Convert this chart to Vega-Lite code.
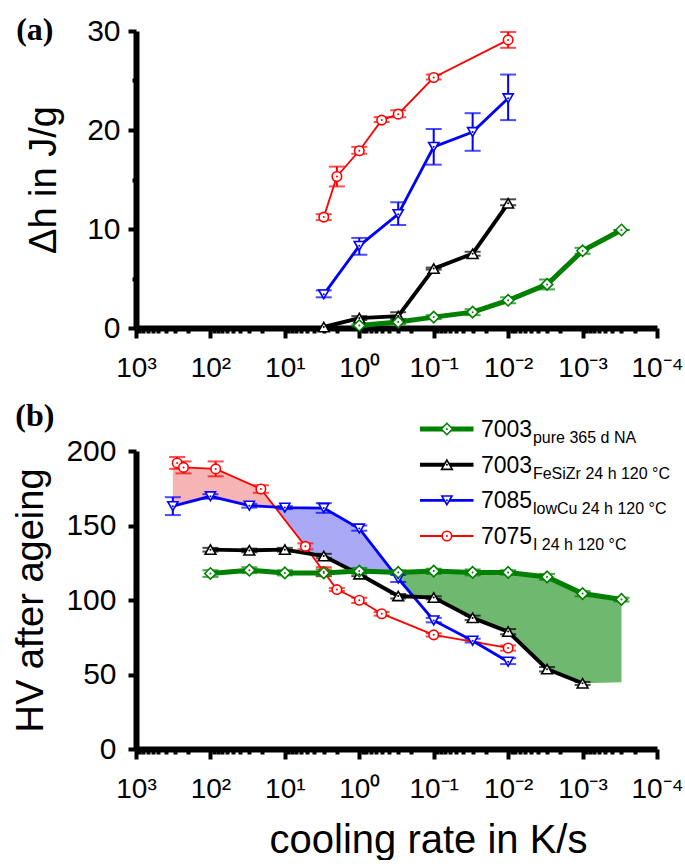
{
"$schema": "https://vega.github.io/schema/vega-lite/v6.json",
"padding": {"left": 12, "top": 14, "right": 0, "bottom": 0},
"spacing": 17,
"config": {
  "view": {"stroke": null},
  "font": "Liberation Sans",
  "axis": {"domainColor": "#000", "domainWidth": 6, "tickColor": "#000", "tickWidth": 4, "labelFont": "Liberation Sans", "labelFontSize": 30, "labelColor": "#000", "titleFont": "Liberation Sans", "titleFontSize": 38, "titleFontWeight": "normal", "titleColor": "#000", "grid": false},
  "axisX": {"labelFontSize": 28}
},
"datasets": {
  "pts": [
    {"p":"a","s":"7075","r":3,"v":11.2,"lo":10.9,"hi":11.5},
    {"p":"a","s":"7075","r":2,"v":15.3,"lo":14.3,"hi":16.3},
    {"p":"a","s":"7075","r":1,"v":17.9,"lo":17.6,"hi":18.3},
    {"p":"a","s":"7075","r":0.5,"v":21.0,"lo":20.8,"hi":21.3},
    {"p":"a","s":"7075","r":0.3,"v":21.6,"lo":21.3,"hi":22.0},
    {"p":"a","s":"7075","r":0.1,"v":25.3,"lo":25.1,"hi":25.6},
    {"p":"a","s":"7075","r":0.01,"v":29.1,"lo":28.3,"hi":29.9},
    {"p":"a","s":"7085","r":3,"v":3.4,"lo":3.1,"hi":3.8},
    {"p":"a","s":"7085","r":1,"v":8.3,"lo":7.4,"hi":9.1},
    {"p":"a","s":"7085","r":0.3,"v":11.5,"lo":10.4,"hi":12.7},
    {"p":"a","s":"7085","r":0.1,"v":18.3,"lo":16.5,"hi":20.1},
    {"p":"a","s":"7085","r":0.03,"v":19.8,"lo":17.9,"hi":21.7},
    {"p":"a","s":"7085","r":0.01,"v":23.2,"lo":21.0,"hi":25.6},
    {"p":"a","s":"7003FeSiZr","r":3,"v":0.1,"lo":0.1,"hi":0.1},
    {"p":"a","s":"7003FeSiZr","r":1,"v":1.0,"lo":0.8,"hi":1.2},
    {"p":"a","s":"7003FeSiZr","r":0.3,"v":1.2,"lo":0.9,"hi":1.6},
    {"p":"a","s":"7003FeSiZr","r":0.1,"v":6.0,"lo":5.9,"hi":6.1},
    {"p":"a","s":"7003FeSiZr","r":0.03,"v":7.5,"lo":7.3,"hi":7.7},
    {"p":"a","s":"7003FeSiZr","r":0.01,"v":12.6,"lo":12.4,"hi":13.0},
    {"p":"a","s":"7003pure","r":1,"v":0.25,"lo":0.15,"hi":0.35},
    {"p":"a","s":"7003pure","r":0.3,"v":0.6,"lo":0.4,"hi":0.8},
    {"p":"a","s":"7003pure","r":0.1,"v":1.1,"lo":0.9,"hi":1.3},
    {"p":"a","s":"7003pure","r":0.03,"v":1.6,"lo":1.3,"hi":1.9},
    {"p":"a","s":"7003pure","r":0.01,"v":2.8,"lo":2.5,"hi":3.1},
    {"p":"a","s":"7003pure","r":0.003,"v":4.4,"lo":3.9,"hi":4.9},
    {"p":"a","s":"7003pure","r":0.001,"v":7.8,"lo":7.5,"hi":8.1},
    {"p":"a","s":"7003pure","r":0.0003,"v":9.9,"lo":9.9,"hi":9.9},
    {"p":"b","s":"7075","r":280,"v":192,"lo":188,"hi":196},
    {"p":"b","s":"7075","r":230,"v":189,"lo":185,"hi":193},
    {"p":"b","s":"7075","r":85,"v":188,"lo":183,"hi":193},
    {"p":"b","s":"7075","r":21,"v":174.5,"lo":172,"hi":177},
    {"p":"b","s":"7075","r":5.3,"v":136,"lo":134,"hi":138},
    {"p":"b","s":"7075","r":3,"v":119,"lo":116,"hi":122},
    {"p":"b","s":"7075","r":2,"v":107,"lo":106,"hi":108},
    {"p":"b","s":"7075","r":1,"v":99.8,"lo":98,"hi":101.5},
    {"p":"b","s":"7075","r":0.5,"v":90.8,"lo":89.5,"hi":92},
    {"p":"b","s":"7075","r":0.1,"v":76.6,"lo":75.5,"hi":77.7},
    {"p":"b","s":"7075","r":0.01,"v":67.8,"lo":66,"hi":69.5},
    {"p":"b","s":"7085","r":320,"v":163,"lo":157,"hi":169},
    {"p":"b","s":"7085","r":100,"v":169.6,"lo":168,"hi":171},
    {"p":"b","s":"7085","r":30,"v":163.3,"lo":162,"hi":164.5},
    {"p":"b","s":"7085","r":10,"v":162,"lo":161,"hi":163},
    {"p":"b","s":"7085","r":3,"v":161.7,"lo":158.5,"hi":165},
    {"p":"b","s":"7085","r":1,"v":148,"lo":146.5,"hi":150},
    {"p":"b","s":"7085","r":0.3,"v":114.4,"lo":112,"hi":117},
    {"p":"b","s":"7085","r":0.1,"v":86.3,"lo":85,"hi":88},
    {"p":"b","s":"7085","r":0.03,"v":72.7,"lo":71.5,"hi":74},
    {"p":"b","s":"7085","r":0.01,"v":58.6,"lo":57,"hi":61},
    {"p":"b","s":"7003FeSiZr","r":100,"v":133.8,"lo":132.5,"hi":135},
    {"p":"b","s":"7003FeSiZr","r":30,"v":133.3,"lo":132,"hi":134.5},
    {"p":"b","s":"7003FeSiZr","r":10,"v":133.8,"lo":132.5,"hi":135},
    {"p":"b","s":"7003FeSiZr","r":3,"v":129.5,"lo":128,"hi":131},
    {"p":"b","s":"7003FeSiZr","r":1,"v":117.3,"lo":116,"hi":118.5},
    {"p":"b","s":"7003FeSiZr","r":0.3,"v":102.7,"lo":101,"hi":104},
    {"p":"b","s":"7003FeSiZr","r":0.1,"v":101.6,"lo":100.5,"hi":102.5},
    {"p":"b","s":"7003FeSiZr","r":0.03,"v":88,"lo":86.5,"hi":89.5},
    {"p":"b","s":"7003FeSiZr","r":0.01,"v":78.8,"lo":77,"hi":80.5},
    {"p":"b","s":"7003FeSiZr","r":0.003,"v":53.6,"lo":52,"hi":55},
    {"p":"b","s":"7003FeSiZr","r":0.001,"v":44.1,"lo":43,"hi":45},
    {"p":"b","s":"7003pure","r":100,"v":117.8,"lo":115.5,"hi":120},
    {"p":"b","s":"7003pure","r":30,"v":120,"lo":118,"hi":122},
    {"p":"b","s":"7003pure","r":10,"v":118.2,"lo":116.5,"hi":120},
    {"p":"b","s":"7003pure","r":3,"v":118.2,"lo":116,"hi":120.5},
    {"p":"b","s":"7003pure","r":1,"v":119.4,"lo":117.5,"hi":121.5},
    {"p":"b","s":"7003pure","r":0.3,"v":118.5,"lo":117,"hi":120},
    {"p":"b","s":"7003pure","r":0.1,"v":119.4,"lo":117.5,"hi":121},
    {"p":"b","s":"7003pure","r":0.03,"v":118.5,"lo":116.5,"hi":120.5},
    {"p":"b","s":"7003pure","r":0.01,"v":118.5,"lo":117,"hi":120},
    {"p":"b","s":"7003pure","r":0.003,"v":115.5,"lo":113.5,"hi":117.5},
    {"p":"b","s":"7003pure","r":0.001,"v":104.3,"lo":102.5,"hi":106},
    {"p":"b","s":"7003pure","r":0.0003,"v":100.4,"lo":99,"hi":101.5}
  ],
  "areas": [
    {"area":"red","r":320,"top":192,"bot":163},
    {"area":"red","r":280,"top":192,"bot":163.9},
    {"area":"red","r":230,"top":189,"bot":165.2},
    {"area":"red","r":100,"top":188.4,"bot":169.6},
    {"area":"red","r":85,"top":188,"bot":168.7},
    {"area":"red","r":30,"top":178,"bot":163.3},
    {"area":"red","r":21,"top":174.5,"bot":162.8},
    {"area":"red","r":13,"top":162.3,"bot":162.3},
    {"area":"blue","r":13,"top":162.3,"bot":162.3},
    {"area":"blue","r":10,"top":162,"bot":154},
    {"area":"blue","r":5.3,"top":161.8,"bot":136},
    {"area":"blue","r":4.5,"top":161.7,"bot":130.8},
    {"area":"blue","r":3,"top":161.7,"bot":129.5},
    {"area":"blue","r":1.2,"top":150.2,"bot":119.2},
    {"area":"blue","r":1,"top":148,"bot":119.4},
    {"area":"blue","r":0.36,"top":118.5,"bot":118.5},
    {"area":"green","r":0.36,"top":118.5,"bot":118.5},
    {"area":"green","r":0.3,"top":118.5,"bot":114.4},
    {"area":"green","r":0.19,"top":118.9,"bot":102.2},
    {"area":"green","r":0.1,"top":119.4,"bot":101.6},
    {"area":"green","r":0.03,"top":118.5,"bot":88},
    {"area":"green","r":0.01,"top":118.5,"bot":78.8},
    {"area":"green","r":0.003,"top":115.5,"bot":53.6},
    {"area":"green","r":0.001,"top":104.3,"bot":44.1},
    {"area":"green","r":0.0003,"top":100.4,"bot":44.8}
  ],
  "leg": [
    {"s":"7003pure","main":"7003","sub":"pure 365 d NA"},
    {"s":"7003FeSiZr","main":"7003","sub":"FeSiZr 24 h 120 °C"},
    {"s":"7085","main":"7085","sub":"lowCu 24 h 120 °C"},
    {"s":"7075","main":"7075","sub":"I 24 h 120 °C"}
  ]
},
"vconcat": [
  {
    "width": 521, "height": 297,
    "layer": [
      {
        "data": {"name": "pts"},
        "transform": [{"filter": "datum.p == 'a'"}],
        "encoding": {
          "x": {"field": "r", "type": "quantitative", "title": null,
            "scale": {"type": "log", "domain": [0.0001, 1000], "reverse": true, "nice": false},
            "axis": {"values": [1000,900,800,700,600,500,400,300,200,100,90,80,70,60,50,40,30,20,10,9,8,7,6,5,4,3,2,1,0.9,0.8,0.7,0.6,0.5,0.4,0.3,0.2,0.1,0.09,0.08,0.07,0.06,0.05,0.04,0.03,0.02,0.01,0.009,0.008,0.007,0.006,0.005,0.004,0.003,0.002,0.001,0.0009,0.0008,0.0007,0.0006,0.0005,0.0004,0.0003,0.0002,0.0001],
              "labelExpr": "abs(log(datum.value)/LN10 - round(log(datum.value)/LN10)) < 0.001 ? '10' + ['⁻⁴','⁻³','⁻²','⁻¹','⁰','¹','²','³'][round(log(datum.value)/LN10)+4] : ''",
              "tickSize": {"condition": {"test": "abs(log(datum.value)/LN10 - round(log(datum.value)/LN10)) < 0.001", "value": 10}, "value": 5},
              "labelFlush": false, "labelOverlap": false, "labelPadding": 16}}
        },
        "layer": [
          {"mark": {"type": "rule", "strokeWidth": 2},
           "encoding": {"y": {"field": "lo", "type": "quantitative", "title": "Δh in J/g", "scale": {"domain": [0, 30], "nice": false},
              "axis": {"values": [0,5,10,15,20,25,30], "labelExpr": "datum.value % 10 == 0 ? datum.label : ''",
                "tickSize": {"condition": {"test": "datum.value % 10 == 0", "value": 8}, "value": 4}, "labelPadding": 8, "titlePadding": 23}},
             "y2": {"field": "hi"},
             "color": {"field": "s", "type": "nominal", "scale": {"domain": ["7003pure","7003FeSiZr","7085","7075"], "range": ["#008000","#000000","#0000ff","#ff0000"]}, "legend": null}}},
          {"mark": {"type": "tick", "orient": "horizontal", "size": 16, "thickness": 2},
           "encoding": {"y": {"field": "lo", "type": "quantitative", "title": "Δh in J/g"},
             "color": {"field": "s", "type": "nominal", "legend": null}}},
          {"mark": {"type": "tick", "orient": "horizontal", "size": 16, "thickness": 2},
           "encoding": {"y": {"field": "hi", "type": "quantitative", "title": "Δh in J/g"},
             "color": {"field": "s", "type": "nominal", "legend": null}}},
          {"mark": {"type": "line"},
           "encoding": {"y": {"field": "v", "type": "quantitative", "title": "Δh in J/g"},
             "stroke": {"field": "s", "type": "nominal", "scale": {"domain": ["7003pure","7003FeSiZr","7085","7075"], "range": ["#008000","#000000","#0000ff","#ff0000"]}, "legend": null},
             "strokeWidth": {"field": "s", "type": "nominal", "scale": {"domain": ["7003pure","7003FeSiZr","7085","7075"], "range": [5, 1.8, 2.5, 2]}, "legend": null}}},
          {"mark": {"type": "point", "filled": true, "fill": "white", "strokeWidth": 1.6, "opacity": 1},
           "encoding": {"y": {"field": "v", "type": "quantitative", "title": "Δh in J/g"},
             "stroke": {"field": "s", "type": "nominal", "legend": null},
             "shape": {"field": "s", "type": "nominal", "scale": {"domain": ["7003pure","7003FeSiZr","7085","7075"], "range": ["diamond","triangle-up","triangle-down","circle"]}, "legend": null},
             "size": {"field": "s", "type": "nominal", "scale": {"domain": ["7003pure","7003FeSiZr","7085","7075"], "range": [130, 90, 100, 95]}, "legend": null}}},
          {"mark": {"type": "point", "filled": true, "shape": "circle", "size": 4, "opacity": 1},
           "encoding": {"y": {"field": "v", "type": "quantitative", "title": "Δh in J/g"},
             "color": {"field": "s", "type": "nominal", "legend": null}}}
        ]
      },
      {
        "data": {"values": [{"t": "(a)"}]},
        "mark": {"type": "text", "font": "Liberation Serif", "fontWeight": "bold", "fontSize": 32, "align": "center", "baseline": "middle"},
        "encoding": {
          "x": {"datum": 22900, "type": "quantitative", "title": null},
          "y": {"datum": 30.1, "type": "quantitative", "title": "Δh in J/g"},
          "text": {"field": "t"}
        }
      }
    ]
  },
  {
    "width": 521, "height": 298,
    "resolve": {"scale": {"y": "independent"}},
    "layer": [
      {
        "layer": [
          {
            "data": {"name": "areas"},
            "mark": {"type": "area", "opacity": 1},
            "encoding": {
              "x": {"field": "r", "type": "quantitative", "title": "cooling rate in K/s",
                "scale": {"type": "log", "domain": [0.0001, 1000], "reverse": true, "nice": false},
                "axis": {"values": [1000,900,800,700,600,500,400,300,200,100,90,80,70,60,50,40,30,20,10,9,8,7,6,5,4,3,2,1,0.9,0.8,0.7,0.6,0.5,0.4,0.3,0.2,0.1,0.09,0.08,0.07,0.06,0.05,0.04,0.03,0.02,0.01,0.009,0.008,0.007,0.006,0.005,0.004,0.003,0.002,0.001,0.0009,0.0008,0.0007,0.0006,0.0005,0.0004,0.0003,0.0002,0.0001],
                  "labelExpr": "abs(log(datum.value)/LN10 - round(log(datum.value)/LN10)) < 0.001 ? '10' + ['⁻⁴','⁻³','⁻²','⁻¹','⁰','¹','²','³'][round(log(datum.value)/LN10)+4] : ''",
                  "tickSize": {"condition": {"test": "abs(log(datum.value)/LN10 - round(log(datum.value)/LN10)) < 0.001", "value": 10}, "value": 5},
                  "labelFlush": false, "labelOverlap": false, "labelPadding": 16, "titleFontSize": 40, "titlePadding": 17, "titleX": 292}},
              "y": {"field": "top", "type": "quantitative", "title": "HV after ageing", "scale": {"domain": [0, 200], "nice": false},
                "axis": {"values": [0,25,50,75,100,125,150,175,200], "labelExpr": "datum.value % 50 == 0 ? datum.label : ''",
                  "tickSize": {"condition": {"test": "datum.value % 50 == 0", "value": 8}, "value": 4}, "labelPadding": 12, "titlePadding": 15}},
              "y2": {"field": "bot"},
              "fill": {"field": "area", "type": "nominal", "scale": {"domain": ["red","blue","green"], "range": ["#f6b4b4","#a9a9f6","#6fb86f"]}, "legend": null}
            }
          },
          {
            "data": {"name": "pts"},
            "transform": [{"filter": "datum.p == 'b'"}],
            "encoding": {"x": {"field": "r", "type": "quantitative", "title": "cooling rate in K/s"}},
            "layer": [
              {"mark": {"type": "rule", "strokeWidth": 2},
               "encoding": {"y": {"field": "lo", "type": "quantitative", "title": "HV after ageing"}, "y2": {"field": "hi"},
                 "color": {"field": "s", "type": "nominal", "scale": {"domain": ["7003pure","7003FeSiZr","7085","7075"], "range": ["#008000","#000000","#0000ff","#ff0000"]}, "legend": null}}},
              {"mark": {"type": "tick", "orient": "horizontal", "size": 16, "thickness": 2},
               "encoding": {"y": {"field": "lo", "type": "quantitative", "title": "HV after ageing"}, "color": {"field": "s", "type": "nominal", "legend": null}}},
              {"mark": {"type": "tick", "orient": "horizontal", "size": 16, "thickness": 2},
               "encoding": {"y": {"field": "hi", "type": "quantitative", "title": "HV after ageing"}, "color": {"field": "s", "type": "nominal", "legend": null}}},
              {"mark": {"type": "line"},
               "encoding": {"y": {"field": "v", "type": "quantitative", "title": "HV after ageing"},
                 "stroke": {"field": "s", "type": "nominal", "scale": {"domain": ["7003pure","7003FeSiZr","7085","7075"], "range": ["#008000","#000000","#0000ff","#ff0000"]}, "legend": null},
                 "strokeWidth": {"field": "s", "type": "nominal", "scale": {"domain": ["7003pure","7003FeSiZr","7085","7075"], "range": [5, 1.8, 2.5, 2]}, "legend": null}}},
              {"mark": {"type": "point", "filled": true, "fill": "white", "strokeWidth": 1.6, "opacity": 1},
               "encoding": {"y": {"field": "v", "type": "quantitative", "title": "HV after ageing"},
                 "stroke": {"field": "s", "type": "nominal", "legend": null},
                 "shape": {"field": "s", "type": "nominal", "scale": {"domain": ["7003pure","7003FeSiZr","7085","7075"], "range": ["diamond","triangle-up","triangle-down","circle"]}, "legend": null},
                 "size": {"field": "s", "type": "nominal", "scale": {"domain": ["7003pure","7003FeSiZr","7085","7075"], "range": [130, 90, 100, 95]}, "legend": null}}},
              {"mark": {"type": "point", "filled": true, "shape": "circle", "size": 4, "opacity": 1},
               "encoding": {"y": {"field": "v", "type": "quantitative", "title": "HV after ageing"}, "color": {"field": "s", "type": "nominal", "legend": null}}}
            ]
          },
          {
            "data": {"values": [{"t": "(b)"}]},
            "mark": {"type": "text", "font": "Liberation Serif", "fontWeight": "bold", "fontSize": 32, "align": "center", "baseline": "middle"},
            "encoding": {
              "x": {"datum": 22900, "type": "quantitative", "title": "cooling rate in K/s"},
              "y": {"datum": 223.5, "type": "quantitative", "title": "HV after ageing"},
              "text": {"field": "t"}
            }
          }
        ]
      },
      {
        "data": {"name": "leg"},
        "encoding": {"y": {"field": "s", "type": "nominal", "scale": {"type": "point", "domain": ["7003pure","7003FeSiZr","7085","7075"], "range": [-22, 85], "padding": 0}, "axis": null}},
        "layer": [
          {"mark": {"type": "rule"},
           "encoding": {"x": {"datum": 0.153, "type": "quantitative", "title": "cooling rate in K/s"}, "x2": {"datum": 0.0292},
             "stroke": {"field": "s", "type": "nominal", "legend": null},
             "strokeWidth": {"field": "s", "type": "nominal", "legend": null}}},
          {"mark": {"type": "point", "filled": true, "fill": "white", "strokeWidth": 1.6, "opacity": 1},
           "encoding": {"x": {"datum": 0.0665, "type": "quantitative", "title": "cooling rate in K/s"},
             "stroke": {"field": "s", "type": "nominal", "legend": null},
             "shape": {"field": "s", "type": "nominal", "legend": null},
             "size": {"field": "s", "type": "nominal", "legend": null}}},
          {"mark": {"type": "point", "filled": true, "shape": "circle", "size": 4, "opacity": 1},
           "encoding": {"x": {"datum": 0.0665, "type": "quantitative", "title": "cooling rate in K/s"},
             "color": {"field": "s", "type": "nominal", "legend": null}}},
          {"mark": {"type": "text", "align": "left", "baseline": "alphabetic", "fontSize": 23, "dy": 8, "color": "#000"},
           "encoding": {"x": {"datum": 0.0232, "type": "quantitative", "title": "cooling rate in K/s"}, "text": {"field": "main"}}},
          {"mark": {"type": "text", "align": "left", "baseline": "alphabetic", "fontSize": 16, "dx": 52, "dy": 14, "color": "#000"},
           "encoding": {"x": {"datum": 0.0232, "type": "quantitative", "title": "cooling rate in K/s"}, "text": {"field": "sub"}}}
        ]
      }
    ]
  }
]
}
